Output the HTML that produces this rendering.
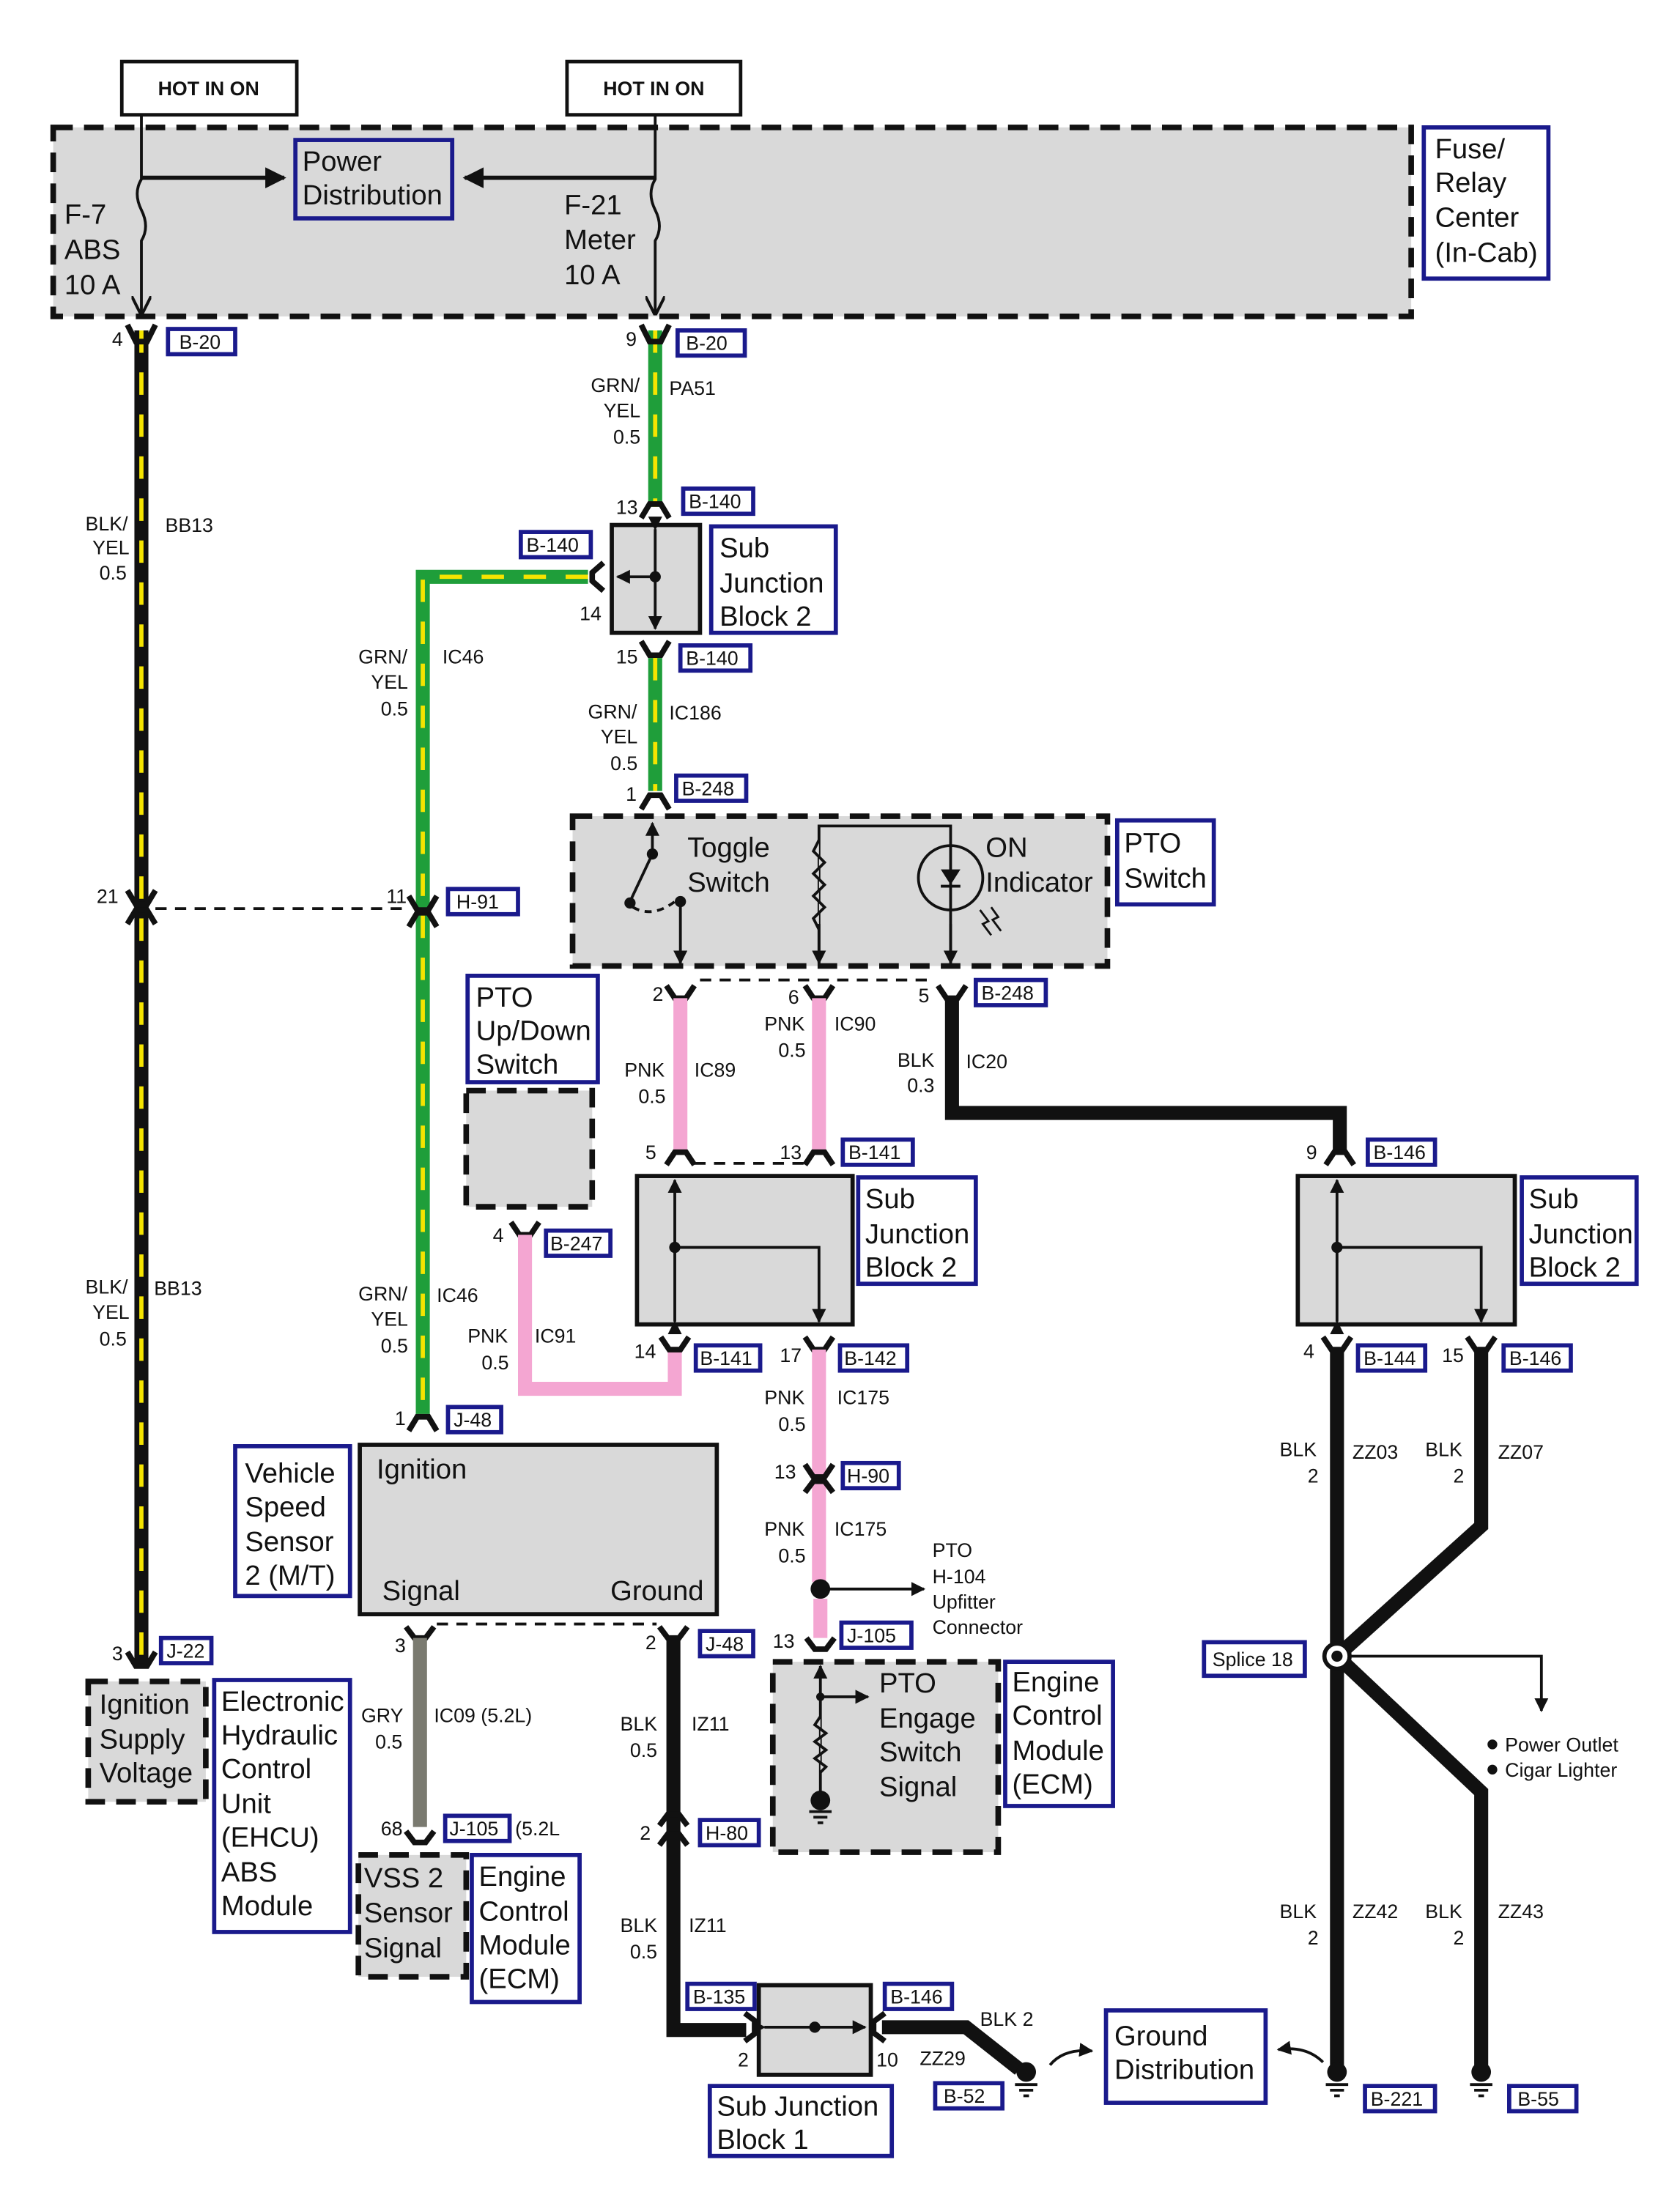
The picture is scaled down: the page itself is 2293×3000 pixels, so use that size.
<!DOCTYPE html>
<html><head><meta charset="utf-8"><style>
html,body{margin:0;padding:0;background:#fff}
svg{display:block}
text{font-family:"Liberation Sans",sans-serif;fill:#111}
.l{font-size:20px}
.s{font-size:14px}
.b{fill:#fff;stroke:#1a1a8c;stroke-width:3}
.g{fill:#d9d9d9;stroke:#111;stroke-width:4;stroke-dasharray:14 8}
.gs{fill:#d9d9d9;stroke:#111;stroke-width:3}
.t{stroke:#111;stroke-width:2;fill:none}
.c{stroke:#111;stroke-width:4;fill:none;stroke-linejoin:miter}
.y{stroke:#f5e400;stroke-width:3;stroke-dasharray:16 14;fill:none}
.bk{stroke:#111;stroke-width:10;fill:none;stroke-linejoin:miter}
.gr{stroke:#1f9e3a;stroke-width:10;fill:none;stroke-linejoin:miter}
.pk{stroke:#f4a6d2;stroke-width:10;fill:none;stroke-linejoin:miter}
</style></head><body>
<svg width="2293" height="3000" viewBox="0 0 1200 1570" xmlns="http://www.w3.org/2000/svg">
<defs>
<marker id="a" viewBox="0 0 10 10" refX="9" refY="5" markerWidth="5" markerHeight="5" orient="auto"><path d="M0,0 L10,5 L0,10 z" fill="#111"/></marker>
<marker id="o" viewBox="0 0 10 10" refX="9" refY="5" markerWidth="7" markerHeight="7" orient="auto"><path d="M0,0 L10,5 L0,10" fill="none" stroke="#111" stroke-width="1.5"/></marker>
</defs>

<!-- HOT IN ON -->
<rect x="87" y="44" width="125" height="38" fill="#fff" stroke="#111" stroke-width="2.5"/>
<text x="149" y="68" text-anchor="middle" style="font-size:14px;font-weight:bold">HOT IN ON</text>
<rect x="405" y="44" width="124" height="38" fill="#fff" stroke="#111" stroke-width="2.5"/>
<text x="467" y="68" text-anchor="middle" style="font-size:14px;font-weight:bold">HOT IN ON</text>

<!-- Fuse box -->
<rect x="38" y="91" width="970" height="135" class="g"/>
<rect x="1017" y="91" width="89" height="108" class="b"/>
<text class="l" x="1025" y="113">Fuse/</text><text class="l" x="1025" y="137">Relay</text><text class="l" x="1025" y="162">Center</text><text class="l" x="1025" y="187">(In-Cab)</text>
<rect x="211" y="100" width="112" height="56" class="b" style="fill:#d9d9d9"/>
<text class="l" x="216" y="122">Power</text><text class="l" x="216" y="146">Distribution</text>
<path d="M101,82 V128 q-6,10 0,22 q6,12 0,22 V224" class="t" marker-end="url(#o)"/>
<path d="M101,127 H203" stroke="#111" stroke-width="3" marker-end="url(#a)"/>
<path d="M468,82 V128 q-6,10 0,22 q6,12 0,22 V224" class="t" marker-end="url(#o)"/>
<path d="M468,127 H332" stroke="#111" stroke-width="3" marker-end="url(#a)"/>
<text class="l" x="46" y="160">F-7</text><text class="l" x="46" y="185">ABS</text><text class="l" x="46" y="210">10 A</text>
<text class="l" x="403" y="153">F-21</text><text class="l" x="403" y="178">Meter</text><text class="l" x="403" y="203">10 A</text>

<!-- Left BB13 wire -->
<path d="M101,236 V1190" class="bk"/><path d="M101,236 V1190" class="y"/>
<path d="M91,232 L97,244 H105 L111,232" class="c"/>
<text class="s" x="80" y="247">4</text>
<rect x="120" y="235" width="48" height="18" class="b"/><text class="s" x="128" y="249">B-20</text>
<text class="s" x="61" y="379">BLK/</text><text class="s" x="66" y="396">YEL</text><text class="s" x="71" y="414">0.5</text>
<text class="s" x="118" y="380">BB13</text>
<path d="M91,636 L97,646 H105 L111,636" class="c"/><path d="M91,660 L97,650 H105 L111,660" class="c"/>
<text class="s" x="69" y="645">21</text>
<path d="M111,649 H292" stroke="#111" stroke-width="2" stroke-dasharray="8 6"/>
<text class="s" x="61" y="924">BLK/</text><text class="s" x="66" y="942">YEL</text><text class="s" x="71" y="961">0.5</text>
<text class="s" x="110" y="925">BB13</text>
<path d="M91,1180 L97,1190 H105 L111,1180" class="c"/>
<text class="s" x="80" y="1186">3</text>
<rect x="115" y="1170" width="36" height="18" class="b"/><text class="s" x="119" y="1184">J-22</text>

<!-- Middle green PA51 -->
<path d="M468,236 V362" class="gr"/><path d="M468,236 V362" class="y"/>
<path d="M458,232 L464,244 H472 L478,232" class="c"/>
<text class="s" x="447" y="247">9</text>
<rect x="484" y="236" width="48" height="18" class="b"/><text class="s" x="490" y="250">B-20</text>
<text class="s" x="422" y="280">GRN/</text><text class="s" x="431" y="298">YEL</text><text class="s" x="438" y="317">0.5</text>
<text class="s" x="478" y="282">PA51</text>
<path d="M458,370 L464,360 H472 L478,370" class="c"/>
<text class="s" x="440" y="367">13</text>
<rect x="488" y="349" width="50" height="18" class="b"/><text class="s" x="492" y="363">B-140</text>

<!-- SJB2 top -->
<rect x="437" y="375" width="63" height="77" class="gs"/>
<path d="M468,378 V449" class="t" marker-start="url(#a)" marker-end="url(#a)"/>
<path d="M468,412 H441" class="t" marker-end="url(#a)"/>
<circle cx="468" cy="412" r="4" fill="#111"/>
<rect x="508" y="376" width="89" height="76" class="b"/>
<text class="l" x="514" y="398">Sub</text><text class="l" x="514" y="423">Junction</text><text class="l" x="514" y="447">Block 2</text>
<path d="M431,402 L423,409 V415 L431,422" class="c"/>
<rect x="372" y="380" width="50" height="18" class="b"/><text class="s" x="376" y="394">B-140</text>
<text class="s" x="414" y="443">14</text>
<path d="M420,412 H302 V1010" class="gr"/><path d="M420,412 H302 V1010" class="y"/>
<path d="M458,458 L464,468 H472 L478,458" class="c"/>
<text class="s" x="440" y="474">15</text>
<rect x="486" y="461" width="50" height="18" class="b"/><text class="s" x="490" y="475">B-140</text>
<path d="M468,470 V565" class="gr"/><path d="M468,470 V565" class="y"/>
<text class="s" x="420" y="513">GRN/</text><text class="s" x="429" y="531">YEL</text><text class="s" x="436" y="550">0.5</text>
<text class="s" x="478" y="514">IC186</text>
<path d="M458,578 L464,568 H472 L478,578" class="c"/>
<text class="s" x="447" y="572">1</text>
<rect x="483" y="554" width="50" height="18" class="b"/><text class="s" x="487" y="568">B-248</text>
<text class="s" x="256" y="474">GRN/</text><text class="s" x="265" y="492">YEL</text><text class="s" x="272" y="511">0.5</text>
<text class="s" x="316" y="474">IC46</text>
<path d="M292,640 L298,650 H306 L312,640" class="c"/><path d="M292,662 L298,652 H306 L312,662" class="c"/>
<text class="s" x="276" y="645">11</text>
<rect x="320" y="635" width="50" height="18" class="b"/><text class="s" x="326" y="649">H-91</text>
<text class="s" x="256" y="929">GRN/</text><text class="s" x="265" y="947">YEL</text><text class="s" x="272" y="966">0.5</text>
<text class="s" x="312" y="930">IC46</text>
<path d="M292,1022 L298,1012 H306 L312,1022" class="c"/>
<text class="s" x="282" y="1018">1</text>
<rect x="320" y="1005" width="38" height="18" class="b"/><text class="s" x="324" y="1019">J-48</text>

<!-- PTO Switch -->
<rect x="409" y="583" width="382" height="107" class="g"/>
<rect x="798" y="586" width="69" height="60" class="b"/>
<text class="l" x="803" y="609">PTO</text><text class="l" x="803" y="634">Switch</text>
<text class="l" x="491" y="612">Toggle</text><text class="l" x="491" y="637">Switch</text>
<text class="l" x="704" y="612">ON</text><text class="l" x="704" y="637">Indicator</text>
<path d="M466,610 V588" class="t" marker-end="url(#a)"/>
<circle cx="466" cy="610" r="4" fill="#111"/>
<path d="M466,610 L450,644" stroke="#111" stroke-width="2"/>
<circle cx="450" cy="645" r="4" fill="#111"/>
<path d="M452,648 q14,8 30,-4" class="t" stroke-dasharray="5 4"/>
<circle cx="486" cy="644" r="4" fill="#111"/>
<path d="M486,644 V688" class="t" marker-end="url(#a)"/>
<path d="M585,688 V590 H679 V688" class="t"/>
<path d="M585,600 l-4,8 l8,8 l-8,8 l8,8 l-8,8 l8,8 l-8,8 l4,8" fill="#d9d9d9" stroke="#111" stroke-width="2"/>
<path d="M585,660 V688" class="t" marker-end="url(#a)"/>
<path d="M679,660 V688" class="t" marker-end="url(#a)"/>
<circle cx="679" cy="627" r="23" fill="none" stroke="#111" stroke-width="2"/>
<path d="M672,621 H686 L679,632 z" fill="#111"/><path d="M672,633 H686" stroke="#111" stroke-width="2"/>
<path d="M700,650 l6,8 l-4,2 l6,8 M708,648 l5,7 l-4,2 l6,8" stroke="#111" stroke-width="1.5" fill="none"/>

<!-- pin 2,6,5 -->
<path d="M476,704 L482,713 H490 L496,704" class="c"/>
<path d="M575,704 L581,713 H589 L595,704" class="c"/>
<path d="M670,704 L676,713 H684 L690,704" class="c"/>
<path d="M500,700 H668" stroke="#111" stroke-width="2" stroke-dasharray="8 6"/>
<text class="s" x="466" y="715">2</text><text class="s" x="563" y="717">6</text><text class="s" x="656" y="716">5</text>
<rect x="697" y="700" width="50" height="18" class="b"/><text class="s" x="701" y="714">B-248</text>
<path d="M486,713 V823" class="pk"/>
<path d="M585,713 V823" class="pk"/>
<text class="s" x="446" y="769">PNK</text><text class="s" x="456" y="788">0.5</text><text class="s" x="496" y="769">IC89</text>
<text class="s" x="546" y="736">PNK</text><text class="s" x="556" y="755">0.5</text><text class="s" x="596" y="736">IC90</text>
<path d="M680,713 V795 H957 V823" class="bk"/>
<text class="s" x="641" y="762">BLK</text><text class="s" x="648" y="780">0.3</text><text class="s" x="690" y="763">IC20</text>

<!-- PTO up/down -->
<rect x="334" y="697" width="93" height="76" class="b"/>
<text class="l" x="340" y="719">PTO</text><text class="l" x="340" y="743">Up/Down</text><text class="l" x="340" y="767">Switch</text>
<rect x="333" y="779" width="90" height="83" class="g"/>
<path d="M365,873 L371,882 H379 L385,873" class="c"/>
<text class="s" x="352" y="887">4</text>
<rect x="390" y="879" width="46" height="18" class="b"/><text class="s" x="393" y="893">B-247</text>
<path d="M375,882 V992 H482 V962" class="pk"/>
<text class="s" x="334" y="959">PNK</text><text class="s" x="344" y="978">0.5</text><text class="s" x="382" y="959">IC91</text>

<!-- SJB2 middle -->
<path d="M476,832 L482,823 H490 L496,832" class="c"/>
<path d="M575,832 L581,823 H589 L595,832" class="c"/>
<path d="M496,831 H575" stroke="#111" stroke-width="2" stroke-dasharray="8 6"/>
<text class="s" x="461" y="828">5</text><text class="s" x="557" y="828">13</text>
<rect x="602" y="814" width="50" height="18" class="b"/><text class="s" x="606" y="828">B-141</text>
<rect x="455" y="840" width="154" height="106" class="gs"/>
<path d="M482,944 V843" class="t" marker-start="url(#a)" marker-end="url(#a)"/>
<path d="M482,891 H585 V944" class="t" marker-end="url(#a)"/>
<circle cx="482" cy="891" r="4" fill="#111"/>
<rect x="613" y="841" width="84" height="76" class="b"/>
<text class="l" x="618" y="863">Sub</text><text class="l" x="618" y="888">Junction</text><text class="l" x="618" y="912">Block 2</text>
<path d="M472,955 L478,964 H486 L492,955" class="c"/>
<path d="M575,955 L581,964 H589 L595,955" class="c"/>
<text class="s" x="453" y="970">14</text><text class="s" x="557" y="973">17</text>
<rect x="497" y="961" width="46" height="18" class="b"/><text class="s" x="500" y="975">B-141</text>
<rect x="600" y="961" width="48" height="18" class="b"/><text class="s" x="603" y="975">B-142</text>
<path d="M585,964 V1130" class="pk"/>
<text class="s" x="546" y="1003">PNK</text><text class="s" x="556" y="1022">0.5</text><text class="s" x="598" y="1003">IC175</text>
<path d="M575,1046 L581,1055 H589 L595,1046" class="c"/><path d="M575,1066 L581,1058 H589 L595,1066" class="c"/>
<text class="s" x="553" y="1056">13</text>
<rect x="602" y="1045" width="40" height="18" class="b"/><text class="s" x="605" y="1059">H-90</text>
<text class="s" x="546" y="1097">PNK</text><text class="s" x="556" y="1116">0.5</text><text class="s" x="596" y="1097">IC175</text>
<circle cx="586" cy="1135" r="7" fill="#111"/>
<path d="M590,1135 H660" stroke="#111" stroke-width="2" marker-end="url(#a)"/>
<text class="s" x="666" y="1112">PTO</text><text class="s" x="666" y="1131">H-104</text><text class="s" x="666" y="1149">Upfitter</text><text class="s" x="666" y="1167">Connector</text>
<path d="M586,1142 V1170" class="pk"/>
<path d="M576,1170 L582,1178 H590 L596,1170" class="c"/>
<text class="s" x="552" y="1177">13</text>
<rect x="601" y="1159" width="50" height="18" class="b"/><text class="s" x="605" y="1173">J-105</text>

<!-- PTO engage -->
<rect x="552" y="1187" width="161" height="136" class="g"/>
<path d="M586,1285 V1190" class="t" marker-end="url(#a)"/>
<circle cx="586" cy="1212" r="3" fill="#111"/>
<path d="M586,1212 H620" class="t" marker-end="url(#a)"/>
<path d="M586,1226 l-4,6 l8,6 l-8,6 l8,6 l-8,6 l8,6 l-4,4" fill="#d9d9d9" stroke="#111" stroke-width="2"/>
<circle cx="586" cy="1286" r="7" fill="#111"/>
<path d="M578,1294 H594 M581,1298 H591 M584,1302 H588" stroke="#111" stroke-width="2"/>
<text class="l" x="628" y="1209">PTO</text><text class="l" x="628" y="1234">Engage</text><text class="l" x="628" y="1258">Switch</text><text class="l" x="628" y="1283">Signal</text>
<rect x="718" y="1187" width="77" height="103" class="b"/>
<text class="l" x="723" y="1208">Engine</text><text class="l" x="723" y="1232">Control</text><text class="l" x="723" y="1257">Module</text><text class="l" x="723" y="1281">(ECM)</text>

<!-- Ignition box -->
<rect x="257" y="1032" width="255" height="121" class="gs"/>
<text class="l" x="269" y="1056">Ignition</text>
<text class="l" x="273" y="1143">Signal</text>
<text class="l" x="436" y="1143">Ground</text>
<rect x="168" y="1033" width="82" height="107" class="b"/>
<text class="l" x="175" y="1059">Vehicle</text><text class="l" x="175" y="1083">Speed</text><text class="l" x="175" y="1108">Sensor</text><text class="l" x="175" y="1132">2 (M/T)</text>
<path d="M290,1162 L296,1170 H304 L310,1162" class="c"/>
<path d="M471,1162 L477,1170 H485 L491,1162" class="c"/>
<path d="M312,1160 H469" stroke="#111" stroke-width="2" stroke-dasharray="8 6"/>
<text class="s" x="282" y="1180">3</text><text class="s" x="461" y="1178">2</text>
<rect x="500" y="1165" width="38" height="18" class="b"/><text class="s" x="504" y="1179">J-48</text>
<path d="M300,1170 V1305" stroke="#7a7a70" stroke-width="10"/>
<text class="s" x="258" y="1230">GRY</text><text class="s" x="268" y="1249">0.5</text><text class="s" x="310" y="1230">IC09 (5.2L)</text>
<path d="M290,1308 L296,1316 H304 L310,1308" class="c"/>
<text class="s" x="272" y="1311">68</text>
<rect x="318" y="1297" width="46" height="18" class="b"/><text class="s" x="321" y="1311">J-105</text>
<text class="s" x="368" y="1311">(5.2L</text>
<rect x="256" y="1325" width="77" height="87" class="g"/>
<text class="l" x="260" y="1348">VSS 2</text><text class="l" x="260" y="1373">Sensor</text><text class="l" x="260" y="1398">Signal</text>
<rect x="337" y="1325" width="77" height="105" class="b"/>
<text class="l" x="342" y="1347">Engine</text><text class="l" x="342" y="1372">Control</text><text class="l" x="342" y="1396">Module</text><text class="l" x="342" y="1420">(ECM)</text>

<rect x="63" y="1201" width="84" height="86" class="g"/>
<text class="l" x="71" y="1224">Ignition</text><text class="l" x="71" y="1249">Supply</text><text class="l" x="71" y="1273">Voltage</text>
<rect x="153" y="1200" width="97" height="180" class="b"/>
<text class="l" x="158" y="1222">Electronic</text><text class="l" x="158" y="1246">Hydraulic</text><text class="l" x="158" y="1270">Control</text><text class="l" x="158" y="1295">Unit</text><text class="l" x="158" y="1319">(EHCU)</text><text class="l" x="158" y="1344">ABS</text><text class="l" x="158" y="1368">Module</text>

<!-- IZ11 -->
<path d="M481,1170 V1450 H533" class="bk"/>
<text class="s" x="443" y="1236">BLK</text><text class="s" x="450" y="1255">0.5</text><text class="s" x="494" y="1236">IZ11</text>
<path d="M471,1304 L477,1296 H485 L491,1304" class="c"/><path d="M471,1318 L477,1310 H485 L491,1318" class="c"/>
<text class="s" x="457" y="1314">2</text>
<rect x="500" y="1300" width="42" height="18" class="b"/><text class="s" x="504" y="1314">H-80</text>
<text class="s" x="443" y="1380">BLK</text><text class="s" x="450" y="1399">0.5</text><text class="s" x="492" y="1380">IZ11</text>
<path d="M532,1438 L540,1444 V1452 L532,1458" class="c"/>
<text class="s" x="527" y="1476">2</text>
<rect x="491" y="1417" width="48" height="18" class="b"/><text class="s" x="495" y="1431">B-135</text>
<rect x="542" y="1418" width="80" height="64" class="gs"/>
<path d="M546,1448 H618" class="t" marker-start="url(#a)" marker-end="url(#a)"/>
<circle cx="582" cy="1448" r="4" fill="#111"/>
<path d="M632,1438 L624,1444 V1452 L632,1458" class="c"/>
<text class="s" x="626" y="1476">10</text>
<rect x="632" y="1417" width="48" height="18" class="b"/><text class="s" x="636" y="1431">B-146</text>
<rect x="507" y="1490" width="130" height="50" class="b"/>
<text class="l" x="512" y="1511">Sub Junction</text><text class="l" x="512" y="1535">Block 1</text>
<path d="M630,1448 H690 L728,1478" class="bk"/>
<text class="s" x="700" y="1447">BLK 2</text><text class="s" x="657" y="1475">ZZ29</text>
<circle cx="733" cy="1480" r="7" fill="#111"/>
<path d="M725,1489 H741 M728,1493 H738 M731,1497 H735" stroke="#111" stroke-width="2"/>
<rect x="668" y="1488" width="48" height="18" class="b"/><text class="s" x="674" y="1502">B-52</text>
<path d="M750,1475 q10,-12 30,-10" class="t" marker-end="url(#a)"/>
<rect x="790" y="1436" width="114" height="66" class="b"/>
<text class="l" x="796" y="1461">Ground</text><text class="l" x="796" y="1485">Distribution</text>
<path d="M945,1473 q-12,-12 -32,-9" class="t" marker-end="url(#a)"/>

<!-- right side -->
<path d="M947,832 L953,823 H961 L967,832" class="c"/>
<text class="s" x="933" y="828">9</text>
<rect x="977" y="814" width="48" height="18" class="b"/><text class="s" x="981" y="828">B-146</text>
<rect x="927" y="840" width="155" height="106" class="gs"/>
<path d="M955,944 V843" class="t" marker-start="url(#a)" marker-end="url(#a)"/>
<path d="M955,891 H1058 V944" class="t" marker-end="url(#a)"/>
<circle cx="955" cy="891" r="4" fill="#111"/>
<rect x="1087" y="841" width="82" height="76" class="b"/>
<text class="l" x="1092" y="863">Sub</text><text class="l" x="1092" y="888">Junction</text><text class="l" x="1092" y="912">Block 2</text>
<path d="M945,955 L951,964 H959 L965,955" class="c"/>
<path d="M1048,955 L1054,964 H1062 L1068,955" class="c"/>
<text class="s" x="931" y="970">4</text><text class="s" x="1030" y="973">15</text>
<rect x="970" y="961" width="48" height="18" class="b"/><text class="s" x="974" y="975">B-144</text>
<rect x="1074" y="961" width="48" height="18" class="b"/><text class="s" x="1078" y="975">B-146</text>
<path d="M955,964 V1475" class="bk"/>
<path d="M1058,964 V1090 L955,1183 L1058,1280 V1475" class="bk"/>
<text class="s" x="914" y="1040">BLK</text><text class="s" x="934" y="1059">2</text><text class="s" x="966" y="1042">ZZ03</text>
<text class="s" x="1018" y="1040">BLK</text><text class="s" x="1038" y="1059">2</text><text class="s" x="1070" y="1042">ZZ07</text>
<circle cx="955" cy="1183" r="9" fill="#fff" stroke="#111" stroke-width="3"/>
<circle cx="955" cy="1183" r="4" fill="#111"/>
<rect x="860" y="1173" width="72" height="24" class="b"/><text class="s" x="866" y="1190">Splice 18</text>
<path d="M964,1183 H1101 V1222" class="t" marker-end="url(#a)"/>
<circle cx="1066" cy="1246" r="3.5" fill="#111"/><text class="s" x="1075" y="1251">Power Outlet</text>
<circle cx="1066" cy="1264" r="3.5" fill="#111"/><text class="s" x="1075" y="1269">Cigar Lighter</text>
<text class="s" x="914" y="1370">BLK</text><text class="s" x="934" y="1389">2</text><text class="s" x="966" y="1370">ZZ42</text>
<text class="s" x="1018" y="1370">BLK</text><text class="s" x="1038" y="1389">2</text><text class="s" x="1070" y="1370">ZZ43</text>
<circle cx="955" cy="1480" r="7" fill="#111"/>
<path d="M947,1489 H963 M950,1493 H960 M953,1497 H957" stroke="#111" stroke-width="2"/>
<circle cx="1058" cy="1480" r="7" fill="#111"/>
<path d="M1050,1489 H1066 M1053,1493 H1063 M1056,1497 H1060" stroke="#111" stroke-width="2"/>
<rect x="975" y="1490" width="50" height="18" class="b"/><text class="s" x="979" y="1504">B-221</text>
<rect x="1078" y="1490" width="48" height="18" class="b"/><text class="s" x="1084" y="1504">B-55</text>
</svg>
</body></html>
